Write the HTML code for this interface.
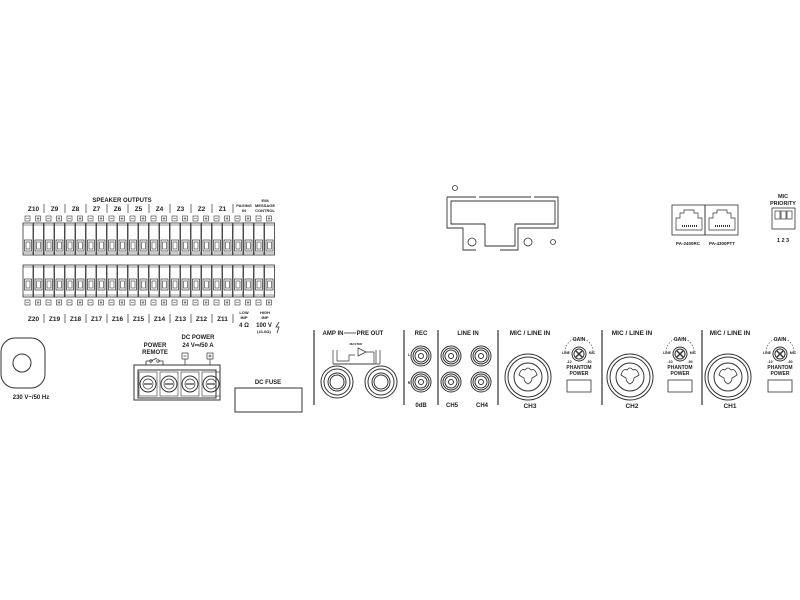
<!DOCTYPE html>
<html><head><meta charset="utf-8"><style>
html,body{margin:0;padding:0;background:#fff;width:800px;height:600px;overflow:hidden}
svg{display:block}
text{font-family:"Liberation Sans",sans-serif;font-weight:bold;fill:#222;text-anchor:middle}
</style></head><body>
<svg id="s" width="800" height="600" viewBox="0 0 800 600" fill="none" stroke="#333" stroke-width="1">
<text x="122" y="202" font-size="6" stroke="none">SPEAKER OUTPUTS</text>
<g id="term"></g>
<text x="244" y="207" font-size="4" stroke="none">PAGING</text>
<text x="244" y="212" font-size="4" stroke="none">IN</text>
<text x="265" y="202" font-size="4" stroke="none">E/M</text>
<text x="265" y="207" font-size="4" stroke="none">MESSAGE</text>
<text x="265" y="212" font-size="4" stroke="none">CONTROL</text>
<text x="244" y="314" font-size="4" stroke="none">LOW</text>
<text x="244" y="319" font-size="4" stroke="none">IMP</text>
<text x="244" y="327" font-size="6" stroke="none">4 Ω</text>
<text x="265" y="314" font-size="4" stroke="none">HIGH</text>
<text x="265" y="319" font-size="4" stroke="none">IMP</text>
<text x="264" y="327" font-size="6" stroke="none">100 V</text>
<text x="264" y="333" font-size="4" stroke="none">(41.6Ω)</text>
<path d="M279 322 l-3 5 h3 l-2 6" stroke-width="0.8"/>
<rect x="1" y="338" width="44" height="50" rx="14"/>
<circle cx="22" cy="363" r="9"/>
<text x="31" y="399" font-size="6" stroke="none">230 V~/50 Hz</text>
<text x="155" y="347" font-size="6" stroke="none">POWER</text>
<text x="155" y="354" font-size="6" stroke="none">REMOTE</text>
<text x="198" y="339" font-size="6" stroke="none">DC POWER</text>
<text x="198" y="347" font-size="6" stroke="none">24 V⎓/50 A</text>
<path d="M146 365 v-4 h5 M163 365 v-4 h-5 M151 361 l6 -3" stroke-width="0.8"/>
<circle cx="151" cy="361" r="1.3" stroke-width="0.6"/><circle cx="158" cy="361" r="1.3" stroke-width="0.6"/>
<rect x="182" y="353" width="6" height="6" stroke-width="0.7"/><path d="M183.5 356h3" stroke-width="0.7"/>
<rect x="207" y="353" width="6" height="6" stroke-width="0.7"/><path d="M208.5 356h3M210 354.5v3" stroke-width="0.7"/>
<path d="M185 359v6M210 359v6" stroke-width="0.7"/>
<rect x="134" y="365" width="86" height="35"/>
<rect x="138" y="370" width="78" height="28"/>
<g id="screws"></g>
<text x="268" y="384" font-size="6" stroke="none">DC FUSE</text>
<rect x="235" y="388" width="67" height="24"/>
<path d="M314 330v75M404 330v75M438 330v75M498 330v75M602 330v75M702 330v75" stroke-width="1.2"/>
<text x="333" y="335" font-size="6" stroke="none">AMP IN</text>
<path d="M344 333h12" stroke-width="0.8"/>
<text x="370" y="335" font-size="6" stroke="none">PRE OUT</text>
<path d="M333 350v14M337 350v11h12v-6h6M358 348l8 4-8 4zM366 352h8v12M374 364h-37M333 364h4" stroke-width="0.7"/>
<path d="M376 350v14M380 350v14M333 364h47" stroke-width="0.7"/>
<text x="356" y="345" font-size="3" stroke="none">MASTER</text>
<g id="jacks"></g>
<text x="421" y="335" font-size="6" stroke="none">REC</text>
<text x="468" y="335" font-size="6" stroke="none">LINE IN</text>
<text x="409" y="356" font-size="3.5" stroke="none">L</text>
<text x="409" y="384" font-size="3.5" stroke="none">R</text>
<g id="rca"></g>
<text x="421" y="407" font-size="6" stroke="none">0dB</text>
<text x="452" y="407" font-size="6" stroke="none">CH5</text>
<text x="482" y="407" font-size="6" stroke="none">CH4</text>
<g id="mic"></g>
<circle cx="455" cy="188" r="2.5" stroke-width="0.8"/>
<path d="M447 197h29M479 197h52M534 197h24v31h-40v22h-18M476 250h-13v-22h-16v-31" stroke-width="0.9"/>
<path d="M451 201h104v23h-40v22h-30v-22h-34z" stroke-width="0.9"/>
<circle cx="472" cy="242" r="4" stroke-width="0.8"/>
<circle cx="528" cy="242" r="4" stroke-width="0.8"/>
<circle cx="553" cy="242" r="2.5" stroke-width="0.8"/>
<rect x="672" y="205" width="33" height="30" stroke-width="0.8"/>
<rect x="705" y="205" width="33" height="30" stroke-width="0.8"/>
<path d="M676 230v-12h4v-5h4v-3h10v3h4v5h4v12zM709 230v-12h4v-5h4v-3h10v3h4v5h4v12z" stroke-width="0.7"/>
<path d="M682 226h16M715 226h16" stroke-width="2" stroke-dasharray="1 1"/>
<text x="688" y="245" font-size="4.5" stroke="none">PA-2400RC</text>
<text x="722" y="245" font-size="4.5" stroke="none">PA-4300PTT</text>
<text x="783" y="198" font-size="5.5" stroke="none">MIC</text>
<text x="783" y="205" font-size="5.5" stroke="none">PRIORITY</text>
<rect x="772" y="208" width="23" height="21" stroke-width="0.8"/>
<rect x="775" y="211" width="5" height="8" stroke-width="0.7"/><rect x="781" y="211" width="5" height="8" stroke-width="0.7"/><rect x="787" y="211" width="5" height="8" stroke-width="0.7"/>
<text x="783" y="242" font-size="5.5" stroke="none">1 2 3</text>
</svg>
<script>
var NS="http://www.w3.org/2000/svg";
function el(p,t,a,txt){var e=document.createElementNS(NS,t);for(var k in a)e.setAttribute(k,a[k]);if(txt!==undefined)e.textContent=txt;document.getElementById(p).appendChild(e);return e;}
var topL=["Z10","Z9","Z8","Z7","Z6","Z5","Z4","Z3","Z2","Z1"],botL=["Z20","Z19","Z18","Z17","Z16","Z15","Z14","Z13","Z12","Z11"];
for(var g=0;g<12;g++){
 var x=23+g*21;
 if(g<10){el("term","text",{x:x+10.5,y:211,"font-size":6.5,stroke:"none"},topL[g]);el("term","text",{x:x+10.5,y:321,"font-size":6.5,stroke:"none"},botL[g]);}
 if(g>0&&g<11){el("term","path",{d:"M"+x+" 204v9M"+x+" 314v9","stroke-width":0.7});}
 for(var t=0;t<2;t++){
  var tx=x+t*10.5;
  el("term","rect",{x:tx+2,y:216,width:5,height:5,"stroke-width":0.6});
  el("term","rect",{x:tx+2,y:300,width:5,height:5,"stroke-width":0.6});
  var d="M"+(tx+3)+" 218.5h3M"+(tx+3)+" 302.5h3";
  if(t==1)d+="M"+(tx+4.5)+" 217v3M"+(tx+4.5)+" 301v3";
  el("term","path",{d:d,"stroke-width":0.6});
  el("term","rect",{x:tx,y:223,width:10,height:32,"stroke-width":0.8});
  el("term","rect",{x:tx+1.5,y:240,width:7,height:11,"stroke-width":0.7});
  el("term","rect",{x:tx+3,y:242,width:4,height:7,"stroke-width":0.6});
  el("term","rect",{x:tx,y:265,width:10,height:32,"stroke-width":0.8});
  el("term","rect",{x:tx+1.5,y:279,width:7,height:11,"stroke-width":0.7});
  el("term","rect",{x:tx+3,y:281,width:4,height:7,"stroke-width":0.6});
 }
}
el("term","path",{d:"M23 225h252M23 253h252M23 267h252M23 295h252","stroke-width":0.5});
for(var i=0;i<4;i++){var cx=148+i*21;el("screws","rect",{x:cx-9,y:372,width:18,height:24,"stroke-width":0.6});el("screws","circle",{cx:cx,cy:384,r:8});el("screws","circle",{cx:cx,cy:384,r:5,"stroke-width":0.7});el("screws","path",{d:"M"+(cx-4)+" 384h8","stroke-width":1.2});}
[[337,382],[381,382]].forEach(function(c){el("jacks","circle",{cx:c[0],cy:c[1],r:16});el("jacks","circle",{cx:c[0],cy:c[1],r:13});el("jacks","circle",{cx:c[0],cy:c[1],r:9});el("jacks","circle",{cx:c[0],cy:c[1],r:7});});
[[421,356],[421,382],[451,356],[481,356],[451,382],[481,382]].forEach(function(c){el("rca","circle",{cx:c[0],cy:c[1],r:10});el("rca","circle",{cx:c[0],cy:c[1],r:8});el("rca","circle",{cx:c[0],cy:c[1],r:6});el("rca","circle",{cx:c[0],cy:c[1],r:2.5});});
[[528,"CH3",579],[630,"CH2",680],[728,"CH1",780]].forEach(function(m){var x=m[0],y=377;
 el("mic","text",{x:x+2,y:335,"font-size":6.5,stroke:"none"},"MIC / LINE IN");
 el("mic","text",{x:x+2,y:408,"font-size":6.5,stroke:"none"},m[1]);
 el("mic","circle",{cx:x,cy:y,r:23});el("mic","circle",{cx:x,cy:y,r:20});el("mic","circle",{cx:x,cy:y,r:14});
 el("mic","path",{d:"M"+(x-9)+" "+(y-2)+"q2 -7 6 -5q3 -4 6 0q4 -2 6 5q-3 2 -5 3q0 4 -4 6q-4 -2 -4 -6q-2 -1 -5 -3z","stroke-width":0.8});
 var g=m[2],gy=354;
 el("mic","text",{x:g,y:341,"font-size":5,stroke:"none"},"GAIN");
 el("mic","path",{d:"M"+(g-14)+" "+(gy-2)+"a14 14 0 0 1 28 0","stroke-width":0.6,"stroke-dasharray":"1.5 1.5"});
 el("mic","circle",{cx:g,cy:gy,r:7});el("mic","circle",{cx:g,cy:gy,r:5});
 el("mic","path",{d:"M"+(g-3)+" "+(gy-3)+"l6 6M"+(g+3)+" "+(gy-3)+"l-6 6","stroke-width":1.5});
 el("mic","text",{x:g-13,y:gy,"font-size":3.5,stroke:"none"},"LINE");
 el("mic","text",{x:g+13,y:gy,"font-size":3.5,stroke:"none"},"MIC");
 el("mic","text",{x:g-10,y:gy+9,"font-size":3.5,stroke:"none"},"-10");
 el("mic","text",{x:g+10,y:gy+9,"font-size":3.5,stroke:"none"},"-50");
 el("mic","text",{x:g,y:369,"font-size":5,stroke:"none"},"PHANTOM");
 el("mic","text",{x:g,y:375,"font-size":5,stroke:"none"},"POWER");
 el("mic","rect",{x:g-12,y:380,width:24,height:12,"stroke-width":0.8});
});
</script>
</body></html>
